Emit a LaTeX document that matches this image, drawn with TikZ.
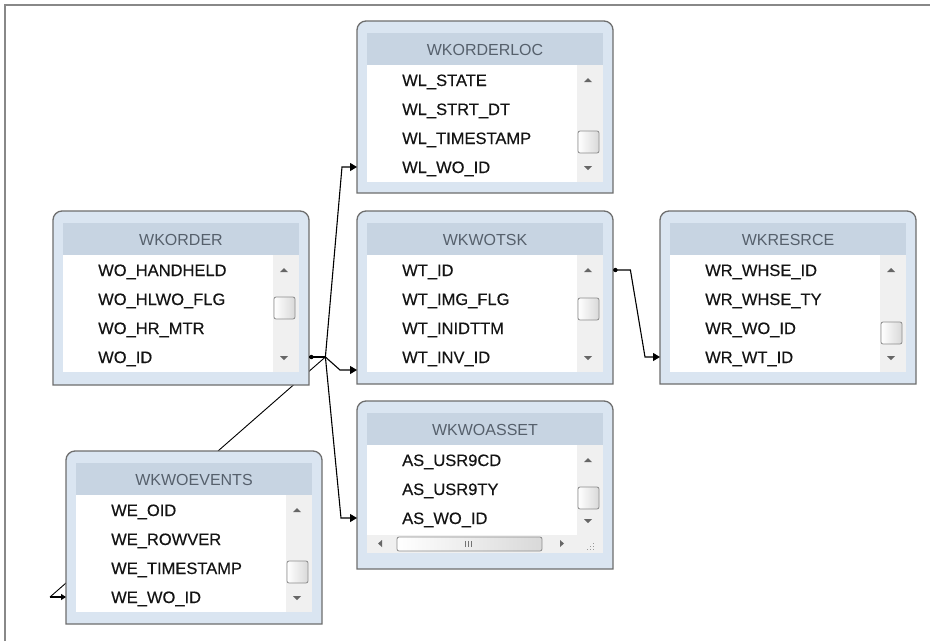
\documentclass[tikz,border=0pt]{standalone}
\usepackage{fontspec}
\setmainfont{Liberation Sans}
\newfontfamily\fldfont[FakeBold=0.35]{Liberation Sans}
\usetikzlibrary{arrows.meta,calc,backgrounds}
\definecolor{panel}{HTML}{DAE5F1}
\definecolor{head}{HTML}{C7D4E2}
\definecolor{frameg}{HTML}{6E6E6E}
\definecolor{titleg}{HTML}{56606C}
\definecolor{sbar}{HTML}{F0F0F0}
\definecolor{fldc}{HTML}{141414}
\definecolor{edgeg}{HTML}{888888}
\tikzset{
  tbl/.style={anchor=north west, inner sep=0pt, minimum width=256pt},
  tframe/.style={draw=frameg, line width=1.3pt, fill=panel},
  sarrow/.style={fill=black!60},
  thumb/.style={draw=black!45, line width=0.8pt, left color=white, right color=black!15, rounded corners=2pt},
  ttl/.style={inner sep=0pt, text height=12pt, text depth=0pt, font=\fontsize{16}{18}\selectfont, text=titleg},
  fld/.style={anchor=west, inner sep=0pt, text height=12pt, text depth=0pt, font=\fldfont\fontsize{16.5}{18}\selectfont, text=fldc},
  conn/.style={draw=black, line width=1.1pt},
  tip/.style={-{Triangle[length=7pt,width=8pt]}},
  startdot/.style={fill=black},
}
% #1 name, #2 x, #3 y, #4 height, #5 title, #6 thumb centre, #7 rows, #8 bottom of list
\newcommand\dbtable[8]{%
\begin{scope}[shift={(#2,#3)}]
  \node[tbl, minimum height=#4pt] (#1) at (0,0) {};
  \draw[tframe] (0,#4) [rounded corners=9pt] -- (0,0) -- (256,0) [sharp corners] -- (256,#4) -- cycle;
  \fill[head] (10,12) rectangle (246,44);
  \fill[white] (10,44) rectangle (220,#8);
  \fill[sbar] (220,44) rectangle (246,#8);
  \fill[sarrow] (227,61) -- (235,61) -- (231,57) -- cycle;
  \fill[sarrow] (227,#8-16) -- (235,#8-16) -- (231,#8-12) -- cycle;
  \draw[thumb] (221,#6-11) rectangle (242,#6+11);
  \node[ttl] (#1-title) at (128,28) {#5};
  \foreach \t [count=\i] in {#7} \node[fld] (#1-r\i) at (45,30+29*\i) {\t};
\end{scope}}
\begin{document}
\begin{tikzpicture}[x=1pt,y=-1pt]
\useasboundingbox (0,0) rectangle (930,641);
\draw[edgeg, line width=2pt] (5,641) -- (5,5) -- (930,5);

\dbtable{loc}{357}{21}{172}{WKORDERLOC}{121}{WL\_STATE,WL\_STRT\_DT,WL\_TIMESTAMP,WL\_WO\_ID}{161}
\dbtable{order}{53}{211}{174}{WKORDER}{97}{WO\_HANDHELD,WO\_HLWO\_FLG,WO\_HR\_MTR,WO\_ID}{161}
\dbtable{wotsk}{357}{211}{173}{WKWOTSK}{98}{WT\_ID,WT\_IMG\_FLG,WT\_INIDTTM,WT\_INV\_ID}{161}
\dbtable{resrce}{660}{211}{173}{WKRESRCE}{122}{WR\_WHSE\_ID,WR\_WHSE\_TY,WR\_WO\_ID,WR\_WT\_ID}{161}
\dbtable{events}{66}{451}{173}{WKWOEVENTS}{121}{WE\_OID,WE\_ROWVER,WE\_TIMESTAMP,WE\_WO\_ID}{161}
\dbtable{asset}{357}{401}{168}{WKWOASSET}{97}{AS\_USR9CD,AS\_USR9TY,AS\_WO\_ID}{134}

% horizontal scrollbar of WKWOASSET
\begin{scope}[shift={(357,401)}]
  \fill[sbar] (10,134) rectangle (246,152);
  \fill[sarrow] (25,139) -- (25,146) -- (21,142.5) -- cycle;
  \draw[thumb] (40,136) rectangle (185,150);
  \foreach \gx in {108.5,111.5,114.5} \draw[black!55, line width=0.8pt] (\gx,140) -- (\gx,145.5);
  \fill[sarrow] (203,139) -- (203,146) -- (207,142.5) -- cycle;
  \foreach \dx/\dy in {236/142,236/145,233/145,236/148,233/148,230/148}
    \fill[black!40] (\dx,\dy) rectangle ++(1.2,1.2);
\end{scope}

% connection points
\coordinate (order-out) at (order.east |- order-r4);
\coordinate (j) at ($(order-out)+(16,0)$);
\coordinate (loc-in) at (loc.west |- loc-r4);
\coordinate (wotsk-in) at ($(wotsk.west |- wotsk-r4)+(0,13)$);
\coordinate (asset-in) at (asset.west |- asset-r3);
\coordinate (wotsk-out) at (wotsk.east |- wotsk-r1);
\coordinate (resrce-in) at (resrce.west |- resrce-r4);
\coordinate (ev-top) at ($(events.north west)+(152,0)$);
\coordinate (ev-in) at (events.west |- events-r4);

\begin{pgfonlayer}{background}
  \fill[white] (0,0) rectangle (930,641);
  \draw[conn, line width=0.9pt] (ev-top) -- (j);
  \draw[conn, line width=0.9pt] ($(ev-in)+(8,-21)$) -- ($(ev-in)+(-16,0)$);
\end{pgfonlayer}

\draw[conn, tip] (j) -- ($(loc-in)+(-15,0)$) -- (loc-in);
\draw[conn, tip] (j) -- ($(wotsk-in)+(-17,0)$) -- (wotsk-in);
\draw[conn, tip] (j) -- ($(asset-in)+(-16,0)$) -- (asset-in);
\draw[conn] (order-out) -- (j);
\fill[startdot] ($(order-out)+(2,0)$) circle (2.2pt);

\draw[conn, tip] (wotsk-out) -- ++(17,0) -- ($(resrce-in)+(-15,0)$) -- (resrce-in);
\fill[startdot] ($(wotsk-out)+(2,0)$) circle (2.2pt);

\draw[conn, -{Triangle[length=5pt,width=6pt]}] ($(ev-in)+(-16,0)$) -- (ev-in);
\end{tikzpicture}
\end{document}
